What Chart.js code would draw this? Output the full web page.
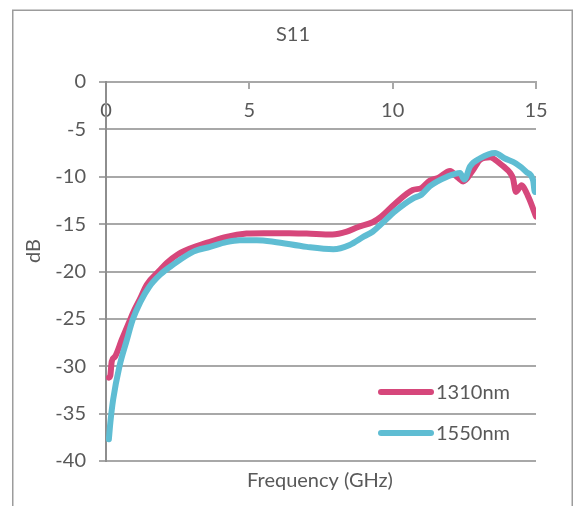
<!DOCTYPE html>
<html>
<head>
<meta charset="utf-8">
<script src="https://cdn.jsdelivr.net/npm/chart.js@4"></script>
<style>
  html, body { margin: 0; padding: 0; background: #ffffff; }
  #wrap { position: relative; width: 581px; height: 506px; }
</style>
</head>
<body>
<div id="wrap"><canvas id="c" width="581" height="506"></canvas></div>
<script>
// ---- data ----
const chartTitle = 'S11';
const xTitle = 'Frequency (GHz)';
const yTitle = 'dB';
const seriesLabels = ['1310nm', '1550nm'];

const freq1310 = [0.1, 0.15, 0.2, 0.31, 0.55, 0.84, 1.0, 1.2, 1.42, 1.9, 2.12, 2.5, 3.28, 3.6, 4.2, 4.9, 5.5, 6.4, 7.0, 7.9, 8.4, 8.8, 9.3, 9.6, 10.1, 10.7, 11.0, 11.3, 11.6, 12.0, 12.28, 12.46, 12.8, 13.05, 13.4, 13.57, 13.86, 14.1, 14.2, 14.3, 14.5, 14.67, 14.8, 15.0];
const s11_1310 = [-31.2, -31.0, -29.5, -29.0, -27.2, -25.1, -24.0, -22.8, -21.4, -19.8, -19.1, -18.2, -17.2, -16.9, -16.35, -16.0, -15.95, -15.95, -16.0, -16.1, -15.8, -15.3, -14.8, -14.2, -12.8, -11.4, -11.2, -10.4, -10.1, -9.4, -10.1, -10.5, -9.3, -8.2, -7.95, -8.2, -8.9, -9.6, -10.2, -11.6, -10.9, -11.7, -12.6, -14.2];

const freq1550 = [0.1, 0.15, 0.25, 0.47, 0.72, 0.93, 1.2, 1.51, 1.9, 2.33, 3.05, 3.63, 4.2, 4.67, 5.26, 5.84, 7.0, 7.93, 8.5, 9.0, 9.3, 9.6, 10.1, 10.7, 11.0, 11.3, 11.9, 12.35, 12.5, 12.7, 13.05, 13.57, 13.9, 14.3, 14.67, 14.9, 14.96, 15.0];
const s11_1550 = [-37.7, -36.0, -33.5, -30.0, -27.3, -25.1, -23.2, -21.6, -20.3, -19.3, -17.9, -17.4, -16.9, -16.7, -16.7, -16.85, -17.4, -17.65, -17.2, -16.3, -15.8, -15.0, -13.6, -12.3, -11.9, -11.0, -10.0, -9.6, -10.3, -8.9, -8.05, -7.5, -8.05, -8.6, -9.5, -10.4, -11.6, -10.5];

const xMin = 0, xMax = 15, xStep = 5;
const yMin = -40, yMax = 0, yStep = 5;

// ---- styles ----
const FONT = 'Lato, "Open Sans", sans-serif';
const TEXT = '#595959';
const GRID = '#a8a8a8';
const colors = ['#d6477b', '#5fbdd3'];

const toPts = (xs, ys) => xs.map((x, i) => ({ x: x, y: ys[i] }));

const frame = {
  id: 'frame',
  beforeDraw(chart) {
    const ctx = chart.ctx;
    ctx.save();
    ctx.fillStyle = '#ffffff';
    ctx.fillRect(0, 0, chart.width, chart.height);
    ctx.strokeStyle = '#9c9c9c';
    ctx.lineWidth = 1.5;
    ctx.strokeRect(12.75, 10.25, 559.5, 520);
    ctx.restore();
  }
};

const extras = {
  id: 'extras',
  afterDraw(chart) {
    const ctx = chart.ctx;
    ctx.save();
    ctx.fillStyle = TEXT;
    ctx.font = '20px ' + FONT;
    ctx.textAlign = 'center';
    ctx.textBaseline = 'middle';
    // chart title
    ctx.fillText(chartTitle, 293, 35);
    // x axis title
    ctx.fillText(xTitle, 320, 481);
    // y axis title
    ctx.save();
    ctx.translate(34, 251);
    ctx.rotate(-Math.PI / 2);
    ctx.fillText(yTitle, 0, 0);
    ctx.restore();
    // legend inside plot
    const legY = [392, 433];
    chart.data.datasets.forEach((ds, i) => {
      const y = legY[i];
      ctx.strokeStyle = ds.borderColor;
      ctx.lineWidth = 6;
      ctx.lineCap = 'round';
      ctx.beginPath();
      ctx.moveTo(381, y);
      ctx.lineTo(431, y);
      ctx.stroke();
      ctx.textAlign = 'left';
      ctx.fillText(ds.label, 436, y + 1);
    });
    ctx.restore();
  }
};

new Chart(document.getElementById('c'), {
  type: 'line',
  data: {
    datasets: [
      { label: seriesLabels[0], data: toPts(freq1310, s11_1310), borderColor: colors[0], backgroundColor: colors[0], borderWidth: 6, pointRadius: 0, cubicInterpolationMode: 'monotone', borderCapStyle: 'round', borderJoinStyle: 'round', order: 1 },
      { label: seriesLabels[1], data: toPts(freq1550, s11_1550), borderColor: colors[1], backgroundColor: colors[1], borderWidth: 6, pointRadius: 0, cubicInterpolationMode: 'monotone', borderCapStyle: 'round', borderJoinStyle: 'round', order: 0 }
    ]
  },
  options: {
    responsive: false,
    animation: false,
    events: [],
    layout: { padding: { left: 0, right: 45, top: 82, bottom: 45 } },
    plugins: {
      legend: { display: false },
      tooltip: { enabled: false },
      title: { display: false }
    },
    scales: {
      x: {
        type: 'linear',
        position: { y: 0 },
        min: xMin, max: xMax,
        ticks: { stepSize: xStep, color: TEXT, font: { family: FONT, size: 20 }, padding: 11, maxRotation: 0 },
        grid: { drawOnChartArea: false, drawTicks: true, tickLength: 6, color: GRID, lineWidth: 2 },
        border: { display: true, color: GRID, width: 2 }
      },
      y: {
        type: 'linear',
        position: 'left',
        min: yMin, max: yMax,
        ticks: { stepSize: yStep, color: TEXT, font: { family: FONT, size: 20 }, padding: 13 },
        grid: { color: GRID, lineWidth: 2, tickLength: 7, drawTicks: true },
        border: { display: true, color: '#8e8e8e', width: 2 },
        afterFit(scale) { scale.width = 106; }
      }
    }
  },
  plugins: [frame, extras]
});
</script>
</body>
</html>
